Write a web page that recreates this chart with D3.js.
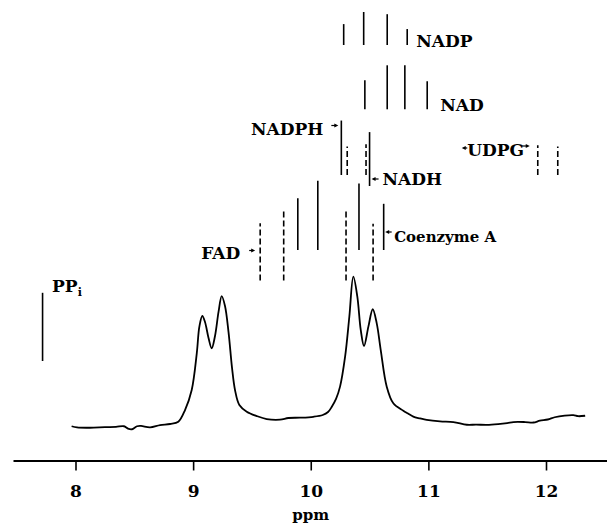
<!DOCTYPE html>
<html>
<head>
<meta charset="utf-8">
<script src="https://cdn.jsdelivr.net/npm/d3@7"></script>
<style>
  body { margin: 0; background: #fff; }
  svg { display: block; font-family: "DejaVu Serif", serif; font-weight: bold; }
</style>
</head>
<body>
<div id="chart"></div>
<script>
// measured spectrum (ppm, relative intensity)
const specPpm = [7.967, 8.013, 8.123, 8.251, 8.344, 8.412, 8.446, 8.480, 8.523, 8.557, 8.634, 8.719, 8.804, 8.874,
  8.931, 8.988, 9.031, 9.053, 9.078, 9.101, 9.131, 9.158, 9.186, 9.216, 9.243, 9.271, 9.301, 9.331, 9.356, 9.393,
  9.456, 9.541, 9.626, 9.739, 9.810, 9.909, 10.022, 10.102, 10.147, 10.179,
  10.215, 10.249, 10.292, 10.328, 10.362, 10.396, 10.425, 10.453, 10.490, 10.527, 10.561, 10.595, 10.646, 10.702,
  10.787, 10.827, 10.872, 10.929, 10.986, 11.099, 11.213, 11.327, 11.406, 11.497, 11.593,
  11.670, 11.723, 11.822, 11.893, 11.948, 12.015, 12.074, 12.159, 12.233, 12.273, 12.333];
const specInt = [0.5, -0.3, -0.5, -0.1, 0.1, 0.5, -1.1, -1.5, 0.5, 0.7, -0.2, 1.3, 2.0, 3.5,
  11.3, 24.7, 49.1, 66.9, 74.0, 70.0, 59.3, 52.5, 60.7, 76.7, 87.3, 80.7, 63.3, 39.3, 24.7, 14.7,
  10.2, 7.3, 5.3, 4.9, 6.0, 6.2, 6.8, 8.0, 10.0, 13.5,
  18.7, 26.9, 46.9, 73.5, 100.2, 86.9, 64.7, 54.0, 66.9, 78.5, 69.1, 51.3, 26.9, 15.8,
  10.9, 9.0, 6.9, 5.7, 4.7, 3.7, 3.3, 1.5, 1.6, 1.4, 1.9,
  2.6, 3.3, 3.3, 3.0, 4.2, 5.0, 6.5, 7.6, 7.9, 7.2, 7.5];

// reference signals (ppm, relative line height)
const nadpPpm = [10.28, 10.45, 10.65, 10.82];
const nadpInt = [1.9, 3.0, 2.8, 1.45];
const nadPpm = [10.46, 10.65, 10.80, 10.99];
const nadInt = [2.65, 4.0, 4.0, 2.55];
const nadphPpm = [10.26];
const nadphInt = [4.95];
const reducedPpm = [10.31, 10.47];
const reducedInt = [2.6, 2.8];
const nadhPpm = [10.50];
const nadhInt = [4.9];
const udpgPpm = [11.93, 12.10];
const udpgInt = [2.7, 2.6];
const coaPpm = [9.89, 10.06, 10.41, 10.62];
const coaInt = [4.7, 6.3, 6.05, 4.2];
const fadPpm = [9.57, 9.77, 10.30, 10.53];
const fadInt = [5.2, 6.5, 6.45, 5.15];
const ppiPpm = [7.72];
const ppiInt = [6.2];

const tickValues = [8, 9, 10, 11, 12];

const width = 607, height = 527;
const svg = d3.select('#chart').append('svg')
  .attr('width', width)
  .attr('height', height);

// scales
const x = d3.scaleLinear().domain([8, 12]).range([75.5, 546]);
const y = d3.scaleLinear().domain([0, 100]).range([427, 277]);
const h = d3.scaleLinear().domain([0, 1]).range([0, 11]);

// rows of stick marks: [ppm, int, bottom, dashed]
const rows = [
  [nadpPpm, nadpInt, 45, false],
  [nadPpm, nadInt, 109.3, false],
  [nadphPpm, nadphInt, 175, false],
  [reducedPpm, reducedInt, 175, true],
  [nadhPpm, nadhInt, 186, false],
  [udpgPpm, udpgInt, 175, true],
  [coaPpm, coaInt, 250, false],
  [fadPpm, fadInt, 280.5, true],
  [ppiPpm, ppiInt, 361, false]
];

const sticks = svg.append('g').attr('class', 'sticks');
rows.forEach(([ppm, vals, base, dashed]) => {
  sticks.append('g')
    .selectAll('line')
    .data(ppm.map((p, i) => ({ p, v: vals[i] })))
    .join('line')
    .attr('x1', d => x(d.p))
    .attr('x2', d => x(d.p))
    .attr('y1', base)
    .attr('y2', d => base - h(d.v))
    .attr('stroke', '#000')
    .attr('stroke-width', 1.6)
    .attr('stroke-dasharray', dashed ? '6,3' : null);
});

// spectrum
const line = d3.line()
  .x(d => x(d[0]))
  .y(d => y(d[1]))
  .curve(d3.curveCatmullRom.alpha(0.5));

svg.append('path')
  .datum(specPpm.map((p, i) => [p, specInt[i]]))
  .attr('d', line)
  .attr('fill', 'none')
  .attr('stroke', '#000')
  .attr('stroke-width', 1.8);

// axis
const axisScale = x.copy().domain([x.invert(13), x.invert(607)]).range([13, 607]);
const axis = svg.append('g')
  .attr('transform', 'translate(0,460.5)')
  .call(d3.axisBottom(axisScale).tickValues(tickValues).tickSize(10).tickSizeOuter(0).tickPadding(14.5)
    .tickFormat(d3.format('d')));
axis.select('.domain').attr('stroke-width', 2);
axis.selectAll('.tick line').attr('stroke-width', 1.6);
axis.selectAll('.tick text')
  .attr('font-family', '"DejaVu Serif", serif')
  .attr('font-weight', 'bold')
  .attr('font-size', 17)
  .attr('fill', '#000');

svg.append('text')
  .attr('x', x(10))
  .attr('y', 520)
  .attr('text-anchor', 'middle')
  .attr('font-size', 15)
  .text('ppm');

// labels
function label(tx, ty, txt, anchor, size) {
  return svg.append('text')
    .attr('x', tx)
    .attr('y', ty)
    .attr('text-anchor', anchor || 'start')
    .attr('font-size', size || 17)
    .text(txt);
}

function arrow(x1, x2, ay) {
  const dir = x2 > x1 ? 1 : -1;
  svg.append('line')
    .attr('x1', x1).attr('x2', x2 - dir * 2)
    .attr('y1', ay).attr('y2', ay)
    .attr('stroke', '#000')
    .attr('stroke-width', 1.2);
  svg.append('path')
    .attr('d', `M${x2},${ay} L${x2 - dir * 4},${ay - 2} L${x2 - dir * 4},${ay + 2} Z`)
    .attr('fill', '#000');
}

label(x(10.82) + 9, 46.5, 'NADP');
label(x(10.99) + 13, 111, 'NAD');

label(x(10.26) - 18, 134.5, 'NADPH', 'end');
arrow(x(10.26) - 10, x(10.26) - 3, 125.5);

label(x(10.50) + 13, 185, 'NADH');
arrow(x(10.50) + 9, x(10.50) + 2, 179);

label(x(11.93) - 70.5, 156, 'UDPG');
arrow(x(11.93) - 70.5, x(11.93) - 76, 148);
arrow(x(11.93) - 16, x(11.93) - 8, 146);

label(x(10.62) + 10.5, 242, 'Coenzyme A', 'start', 15);
arrow(x(10.62) + 8, x(10.62) + 1.5, 232);

label(x(9.57) - 20, 258.5, 'FAD', 'end');
arrow(x(9.57) - 11, x(9.57) - 5, 250.5);

const ppi = label(x(7.72) + 9.5, 292, 'PP');
ppi.append('tspan')
  .attr('font-size', 11)
  .attr('dy', 4)
  .text('i');
</script>
</body>
</html>
